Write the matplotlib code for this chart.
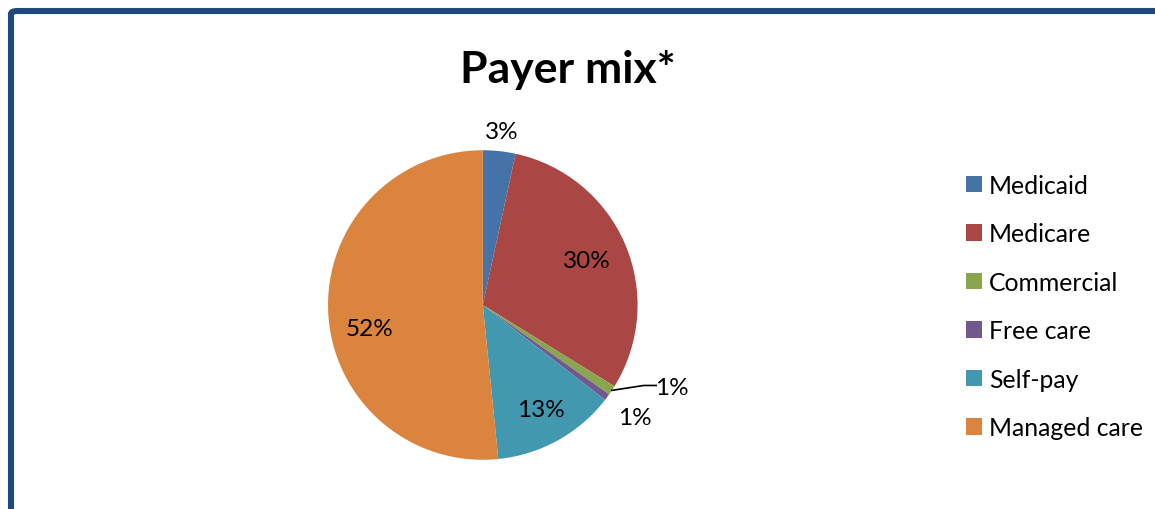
import numpy as np
import matplotlib.pyplot as plt
from matplotlib.patches import FancyBboxPatch

categories = ['Medicaid', 'Medicare', 'Commercial', 'Free care', 'Self-pay', 'Managed care']
shares = [3.4, 30.4, 1.0, 0.7, 12.9, 51.6]
colors = ['#4572A7', '#AA4643', '#89A54E', '#71588F', '#4198AF', '#DB843D']

plt.rcParams['font.family'] = ['Lato', 'DejaVu Sans']

fig = plt.figure(figsize=(11.55, 5.1), dpi=100)

# dark blue frame, running off the right and bottom edges
frame = FancyBboxPatch((11 / 1155, -0.2), 1.2, 1.2 - 12 / 510,
                       boxstyle='round,pad=0,rounding_size=0.006',
                       transform=fig.transFigure, fill=False,
                       edgecolor='#1F497D', linewidth=4.4)
fig.patches.append(frame)

fig.text(0.492, 0.862, 'Payer mix*', ha='center', va='center',
         fontsize=32, fontweight='bold')

ax = fig.add_axes([0.284, 0.096, 0.268, 0.608])
wedges, _ = ax.pie(shares, colors=colors, startangle=90, counterclock=False,
                   radius=1)
ax.set_xlim(-1, 1)
ax.set_ylim(-1, 1)
ax.set_aspect('equal')
ax.axis('off')

# label radius and angle tweak per wedge
label_r = [1.13, 0.73, 1.33, 1.22, 0.77, 0.745]
angle_shift = [0, 0, 10, 0, 0, 9]
for w, v, r, da in zip(wedges, shares, label_r, angle_shift):
    mid = np.deg2rad((w.theta1 + w.theta2) / 2 + da)
    x, y = r * np.cos(mid), r * np.sin(mid)
    ax.text(x, y, f'{round(v):.0f}%', ha='center', va='center', fontsize=17.5)

# leader line for Commercial
w = wedges[2]
mid = np.deg2rad((w.theta1 + w.theta2) / 2)
ax.plot([np.cos(mid), 1.04, 1.12], [np.sin(mid), -0.52, -0.52],
        color='black', lw=1.2, clip_on=False)

fig.legend(wedges, categories, loc='upper left', bbox_to_anchor=(0.836, 0.657),
           frameon=False, fontsize=17.8, handlelength=0.65, handleheight=0.65,
           handletextpad=0.3, labelspacing=1.03, borderpad=0, borderaxespad=0)

fig.savefig('out.png', dpi=100)
